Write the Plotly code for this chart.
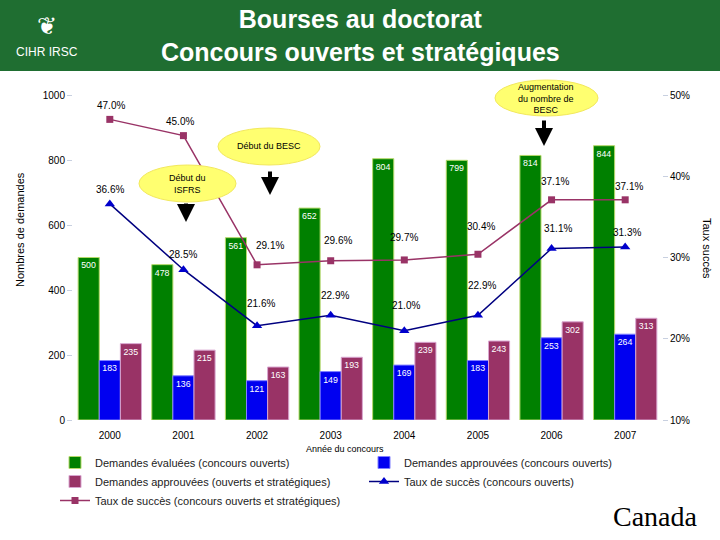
import plotly.graph_objects as go

years = ["2000", "2001", "2002", "2003", "2004", "2005", "2006", "2007"]
evaluees_ouverts = [500, 478, 561, 652, 804, 799, 814, 844]
approuvees_ouverts = [183, 136, 121, 149, 169, 183, 253, 264]
approuvees_ouv_strat = [235, 215, 163, 193, 239, 243, 302, 313]
taux_ouv_strat = [47.0, 45.0, 29.1, 29.6, 29.7, 30.4, 37.1, 37.1]
taux_ouverts = [36.6, 28.5, 21.6, 22.9, 21.0, 22.9, 31.1, 31.3]

W, H = 720, 540
L, R, T, B = 73, 58, 95, 120
PW, PH = W - L - R, H - T - B


def px_x(p):
    return (p - L) / PW


def px_y(p):
    return (H - B - p) / PH


GREEN = "#008000"
BLUE = "#0000F0"
PURPLE = "#993366"
NAVY = "#000080"
FONT = "Liberation Sans, Arial, sans-serif"

fig = go.Figure()
bar_text = dict(textposition="inside", insidetextanchor="end", textangle=0,
                textfont=dict(size=10, color="white", family=FONT), cliponaxis=False)
fig.add_trace(go.Bar(x=years, y=evaluees_ouverts, name="Demandes évaluées (concours ouverts)",
                     marker=dict(color=GREEN, line=dict(color="#B5D96A", width=1)),
                     text=evaluees_ouverts, legend="legend", **bar_text))
fig.add_trace(go.Bar(x=years, y=approuvees_ouverts, name="Demandes approuvées (concours ouverts)",
                     marker=dict(color=BLUE, line=dict(color="#8080FF", width=1)),
                     text=approuvees_ouverts, legend="legend2", **bar_text))
fig.add_trace(go.Bar(x=years, y=approuvees_ouv_strat, name="Demandes approuvées (ouverts et stratégiques)",
                     marker=dict(color=PURPLE, line=dict(color="#D9A6D0", width=1)),
                     text=approuvees_ouv_strat, legend="legend", **bar_text))
fig.add_trace(go.Scatter(x=years, y=taux_ouverts, yaxis="y2", mode="lines+markers",
                         name="Taux de succès (concours ouverts)", legend="legend2",
                         line=dict(color=NAVY, width=1.5),
                         marker=dict(symbol="triangle-up", size=9, color="#0000CC")))
fig.add_trace(go.Scatter(x=years, y=taux_ouv_strat, yaxis="y2", mode="lines+markers",
                         name="Taux de succès (concours ouverts et stratégiques)", legend="legend",
                         line=dict(color=PURPLE, width=1.5),
                         marker=dict(symbol="square", size=7, color=PURPLE)))

# percentage labels on the lines (x given as category index)
blue_shift = [(0, 14), (0, 15), (4, 22), (4, 20), (2, 25), (4, 30), (6, 20), (2, 14)]
purple_shift = [(1, 14), (-3, 14), (13, 19), (7, 20), (0, 22), (3, 28), (3, 18), (4, 13)]
annotations = []
for i, (v, (dx, dy)) in enumerate(zip(taux_ouverts, blue_shift)):
    annotations.append(dict(x=i, y=v, xref="x", yref="y2", text=f"{v:.1f}%", showarrow=False,
                            xshift=dx, yshift=dy, font=dict(size=10, color="black", family=FONT)))
for i, (v, (dx, dy)) in enumerate(zip(taux_ouv_strat, purple_shift)):
    annotations.append(dict(x=i, y=v, xref="x", yref="y2", text=f"{v:.1f}%", showarrow=False,
                            xshift=dx, yshift=dy, font=dict(size=10, color="black", family=FONT)))


def note(text, x, y, size, color="black", family=FONT, angle=0):
    annotations.append(dict(x=px_x(x), y=px_y(y), xref="paper", yref="paper", xanchor="center",
                            yanchor="middle", text=text, showarrow=False, textangle=angle,
                            font=dict(size=size, color=color, family=family)))


# header
note("<b>Bourses au doctorat<br>Concours ouverts et stratégiques</b>", 360, 36, 25, "white")
note("CIHR IRSC", 47, 52, 12, "white")
note("❦", 47, 26, 24, "white", "DejaVu Sans")

# axis titles
note("Nombres de demandes", 20, 230, 11, angle=-90)
note("Taux succès", 707, 248, 11, angle=90)
note("Année du concours", 345, 449, 9)

# callouts
note("Début du<br>ISFRS", 187, 184, 9)
note("Début du BESC", 269, 146, 9)
note("Augmentation<br>du nombre de<br>BESC", 546, 98, 9)
arrows = [(186, 202, 222), (270, 170, 195), (544, 119, 146)]
for ax_, y0, y1 in arrows:
    annotations.append(dict(x=px_x(ax_), y=px_y(y1), xref="paper", yref="paper", text="",
                            showarrow=True, ax=0, ay=-(y1 - y0), arrowhead=2, arrowsize=0.9,
                            arrowwidth=4, arrowcolor="black"))

note("Canada", 655, 516, 28, family="Liberation Serif, serif")

shapes = [
    dict(type="rect", xref="paper", yref="paper", x0=px_x(0), x1=px_x(W), y0=px_y(71), y1=px_y(0),
         fillcolor="#1F6E31", line=dict(width=0), layer="below"),
    dict(type="circle", xref="paper", yref="paper", x0=px_x(139), x1=px_x(236), y0=px_y(202), y1=px_y(165),
         fillcolor="#FFFF70", line=dict(color="#F2E85C", width=1), layer="above"),
    dict(type="circle", xref="paper", yref="paper", x0=px_x(218), x1=px_x(320), y0=px_y(165), y1=px_y(128),
         fillcolor="#FFFF70", line=dict(color="#F2E85C", width=1), layer="above"),
    dict(type="circle", xref="paper", yref="paper", x0=px_x(495), x1=px_x(598), y0=px_y(116), y1=px_y(80),
         fillcolor="#FFFF70", line=dict(color="#F2E85C", width=1), layer="above"),
]

legend_style = dict(orientation="v", xanchor="left", yanchor="top", tracegroupgap=0,
                    font=dict(size=11, color="#222222", family=FONT), itemwidth=30,
                    bgcolor="rgba(0,0,0,0)", traceorder="normal")

fig.update_layout(
    width=W, height=H,
    margin=dict(l=L, r=R, t=T, b=B, autoexpand=False),
    paper_bgcolor="white", plot_bgcolor="white",
    font=dict(family=FONT, size=10, color="black"),
    barmode="group", bargap=0.14, bargroupgap=0,
    showlegend=True,
    legend=dict(x=px_x(55), y=px_y(448), **legend_style),
    legend2=dict(x=px_x(364), y=px_y(448), **legend_style),
    xaxis=dict(type="category", range=[-0.5, 7.5], showline=False, ticks="",
               ticklabelstandoff=8, tickfont=dict(size=10)),
    yaxis=dict(range=[0, 1000], dtick=200, showgrid=False, zeroline=False, showline=False,
               ticks="outside", ticklen=5, tickcolor="#C8D0E0", tickfont=dict(size=10)),
    yaxis2=dict(range=[10, 50], dtick=10, ticksuffix="%", overlaying="y", side="right",
                showgrid=False, zeroline=False, showline=False, ticks="outside", ticklen=5,
                tickcolor="#C8D0E0", tickfont=dict(size=10)),
    annotations=annotations,
    shapes=shapes,
)

# the page body has a default margin; drop it so the figure sits at the window's corner
fig.write_html("out.html", config={"displayModeBar": False},
               post_script="document.body.style.margin='0';")
